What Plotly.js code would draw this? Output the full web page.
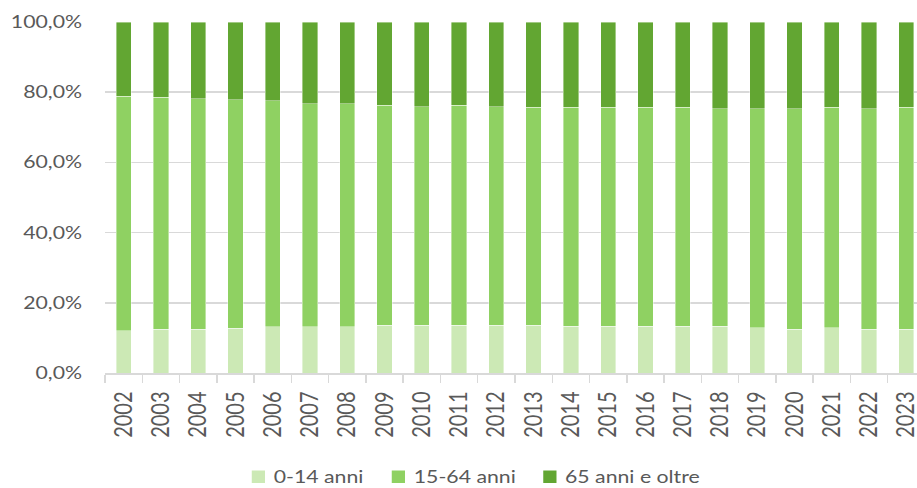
<!DOCTYPE html>
<html>
<head>
<meta charset="utf-8">
<script src="https://cdn.plot.ly/plotly-3.0.1.min.js"></script>
<style>
html,body{margin:0;padding:0;background:#fff;overflow:hidden}
#wrap{width:917px;height:488px;overflow:hidden;position:relative}
#chart{width:744px;height:488px;transform:scaleX(1.25);transform-origin:0 0;position:absolute;left:0;top:0}
</style>
</head>
<body>
<div id="wrap"><div id="chart"></div></div>
<script>
const years = ["2002","2003","2004","2005","2006","2007","2008","2009","2010","2011","2012","2013","2014","2015","2016","2017","2018","2019","2020","2021","2022","2023"];
const seriesNames = ["0-14 anni","15-64 anni","65 anni e oltre"];
const age0_14 = [12.0,12.4,12.4,12.8,13.2,13.2,13.2,13.6,13.6,13.6,13.6,13.6,13.3,13.3,13.3,13.3,13.3,12.9,12.5,12.9,12.5,12.5];
const age15_64 = [66.9,66.1,65.8,65.0,64.3,63.5,63.5,62.7,62.3,62.7,62.3,62.1,62.4,62.4,62.4,62.4,62.0,62.4,62.8,62.8,62.8,63.2];
const age65plus = [21.1,21.5,21.8,22.2,22.5,23.3,23.3,23.7,24.1,23.7,24.1,24.3,24.3,24.3,24.3,24.3,24.7,24.7,24.7,24.3,24.7,24.3];
const yTicks = [0,20,40,60,80,100];
const yTickText = yTicks.map(v => v.toFixed(1).replace(".", ",") + "%");

const colors = ["#cce9b5","#8fd162","#62a632"];
const seriesVals = [age0_14, age15_64, age65plus];
const traces = seriesVals.map((v,i)=>({
  type:"bar", x: years, y: v, name: seriesNames[i],
  marker:{color: colors[i], line:{color:"rgba(255,255,255,0.6)", width:0.6}},
  hoverinfo:"skip", showlegend:false
}));

// legend drawn as layout items (pre-scale pixel positions)
const ML = 84, PW = 650, MT = 22, PH = 351, H = 488;
const legendLeft = [201.4, 313.4, 434.6];
const toPX = px => (px - ML) / PW;
const toPY = py => (H - 115 - py) / PH;
const shapes = legendLeft.map((lx,i)=>({
  type:"rect", xref:"paper", yref:"paper",
  x0: toPX(lx), x1: toPX(lx + 10.6), y0: toPY(483), y1: toPY(470.5),
  fillcolor: colors[i], line:{width:0}
}));
const annotations = legendLeft.map((lx,i)=>({
  xref:"paper", yref:"paper", x: toPX(lx + 16.6), y: toPY(476.8),
  xanchor:"left", yanchor:"middle", showarrow:false, borderpad:0,
  text: seriesNames[i], font:{size:17, color:"#595959"}
}));

const layout = {
  width:744, height:488,
  margin:{l:ML, r:10, t:MT, b:115},
  barmode:"stack", bargap:0.59,
  paper_bgcolor:"#fff", plot_bgcolor:"#fff",
  font:{family:"Lato, 'Open Sans', sans-serif", color:"#595959", size:16},
  showlegend:false,
  shapes: shapes, annotations: annotations,
  xaxis:{type:"category", range:[-0.5,21.3], tickangle:-90, showgrid:false,
    showline:true, linecolor:"#d9d9d9", linewidth:1.5,
    ticks:"outside", tickson:"boundaries", ticklen:8, tickcolor:"#d9d9d9", tickwidth:1.2,
    ticklabelstandoff:9,
    tickfont:{size:20, color:"#595959"}},
  yaxis:{range:[0,100], tickvals:yTicks, ticktext:yTickText,
    showgrid:true, gridcolor:"#d9d9d9", gridwidth:1.5, zeroline:false, showline:false,
    ticks:"outside", ticklen:14, tickcolor:"rgba(0,0,0,0)", tickfont:{size:17, color:"#595959"}, automargin:false}
};
Plotly.newPlot("chart", traces, layout, {staticPlot:true, displayModeBar:false});
</script>
</body>
</html>
